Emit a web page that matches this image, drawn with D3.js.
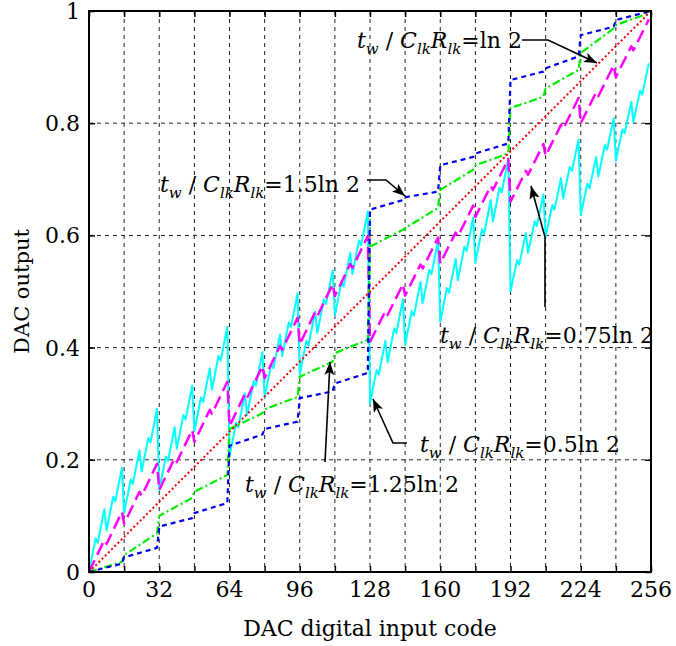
<!DOCTYPE html>
<html lang="en">
<head>
<meta charset="UTF-8">
<title>DAC output vs input code</title>
<script src="https://cdn.jsdelivr.net/npm/d3@7"></script>
<style>
  body { margin: 0; background: #fff; }
  svg { display: block; font-family: "DejaVu Serif", serif; }
</style>
</head>
<body>
<script>
'use strict';

// axis ticks
const xTicks = d3.range(0, 257, 32);
const xMinor = d3.range(0, 257, 16);
const yTicks = [0, 0.2, 0.4, 0.6, 0.8, 1];
const yTickLabels = ['0', '0.2', '0.4', '0.6', '0.8', '1'];

// ideal (tw/ClkRlk = ln 2)
const idealCodes = [0, 255];
const idealOut = [0, 0.996];

// blue / green: read at start and end of every 16-code block
const blockCodes = d3.range(0, 256, 16).flatMap(c => [c, c + 15]);
const blueOut = [0, .015, .026, .043, .081, .096, .105, .123,
                 .225, .245, .255, .268, .31, .322, .336, .355,
                 .646, .663, .668, .678, .725, .740, .746, .764,
                 .877, .892, .898, .919, .957, .972, .984, .999];
const greenOut = [0, .018, .03, .069, .10, .132, .143, .173,
                  .255, .283, .29, .312, .348, .375, .39, .414,
                  .58, .61, .613, .649, .681, .717, .725, .746,
                  .827, .847, .862, .895, .925, .969, .975, .996];

// magenta: start and end of every 8-code block
const eightCodes = d3.range(0, 256, 8).flatMap(c => [c, c + 7]);
const magentaOut = [0, .057, .05, .107, .086, .143, .136, .193,
                    .146, .203, .196, .253, .232, .289, .282, .339,
                    .26, .317, .31, .367, .346, .403, .396, .453,
                    .406, .463, .456, .513, .492, .549, .542, .599,
                    .41, .465, .458, .513, .493, .548, .541, .596,
                    .55, .605, .598, .653, .633, .688, .681, .736,
                    .66, .715, .708, .763, .742, .797, .79, .845,
                    .80, .855, .848, .903, .882, .937, .93, .985];

// cyan: start and end of every 4-code block
const fourCodes = d3.range(0, 256, 4).flatMap(c => [c, c + 3]);
const cyanOut = [0, .06, .052, .112, .074, .134, .126, .186,
                 .105, .165, .157, .217, .179, .239, .231, .291,
                 .146, .206, .198, .258, .22, .28, .272, .332,
                 .251, .311, .303, .363, .325, .385, .377, .437,
                 .206, .266, .258, .318, .28, .34, .332, .392,
                 .311, .371, .363, .423, .385, .445, .437, .497,
                 .352, .412, .404, .464, .426, .486, .478, .538,
                 .457, .517, .509, .569, .531, .591, .583, .643,
                 .30, .36, .352, .412, .374, .434, .426, .486,
                 .405, .465, .457, .517, .479, .539, .531, .591,
                 .446, .506, .498, .558, .52, .58, .572, .632,
                 .551, .611, .603, .663, .625, .685, .677, .737,
                 .50, .556, .548, .604, .569, .625, .617, .673,
                 .598, .654, .646, .702, .666, .722, .715, .771,
                 .636, .692, .684, .74, .705, .761, .753, .809,
                 .733, .789, .782, .838, .802, .858, .851, .907];

const W = 676, H = 646;
const margin = { left: 89, top: 11, right: 25, bottom: 74 };
const pw = W - margin.left - margin.right;
const ph = H - margin.top - margin.bottom;

const svg = d3.select('body').append('svg')
    .attr('width', W)
    .attr('height', H);

const defs = svg.append('defs');
defs.append('marker')
    .attr('id', 'head')
    .attr('markerUnits', 'userSpaceOnUse')
    .attr('markerWidth', 14)
    .attr('markerHeight', 10)
    .attr('refX', 13)
    .attr('refY', 5)
    .attr('orient', 'auto')
    .append('path')
    .attr('d', 'M0,0 L13,5 L0,10 L3,5 z')
    .attr('fill', '#000');

const x = d3.scaleLinear().domain([0, 256]).range([0, pw]);
const y = d3.scaleLinear().domain([0, 1]).range([ph, 0]);

const g = svg.append('g')
    .attr('transform', 'translate(' + margin.left + ',' + margin.top + ')');

// grid
g.append('g')
    .selectAll('line')
    .data(xMinor.slice(1, -1))
    .enter().append('line')
    .attr('x1', d => x(d)).attr('x2', d => x(d))
    .attr('y1', 0).attr('y2', ph)
    .attr('stroke', '#222')
    .attr('stroke-width', 1)
    .attr('stroke-dasharray', '4,4');

g.append('g')
    .selectAll('line')
    .data(yTicks.slice(1, -1))
    .enter().append('line')
    .attr('x1', 0).attr('x2', pw)
    .attr('y1', d => y(d)).attr('y2', d => y(d))
    .attr('stroke', '#222')
    .attr('stroke-width', 1)
    .attr('stroke-dasharray', '4,4');

// series
function series(codes, vals, color, width, dash) {
    const line = d3.line()
        .x(d => x(d[0]))
        .y(d => y(d[1]));
    g.append('path')
        .datum(codes.map((c, i) => [c, vals[i]]))
        .attr('d', line)
        .attr('fill', 'none')
        .attr('stroke', color)
        .attr('stroke-width', width)
        .attr('stroke-linejoin', 'round')
        .attr('stroke-dasharray', dash);
}

series(fourCodes, cyanOut, '#00ffff', 2, null);
series(eightCodes, magentaOut, '#ff00ff', 2.5, '13,6');
series(blockCodes, greenOut, '#00ee00', 2.2, '8,3,2,3');
series(blockCodes, blueOut, '#0000ee', 2.2, '5,4');
series(idealCodes, idealOut, '#ff0000', 2, '2,2.5');

// axes (ticks inward)
const axB = d3.axisBottom(x).tickValues(xMinor).tickSize(-6).tickFormat('');
const axT = d3.axisTop(x).tickValues(xMinor).tickSize(-6).tickFormat('');
const axL = d3.axisLeft(y).tickValues(yTicks).tickSize(-6).tickFormat('');
const axR = d3.axisRight(y).tickValues(yTicks).tickSize(-6).tickFormat('');

[[axB, 'translate(0,' + ph + ')'], [axT, null], [axL, null], [axR, 'translate(' + pw + ',0)']]
    .forEach(([ax, tr]) => {
        const a = g.append('g').attr('transform', tr).call(ax);
        a.select('.domain').remove();
        a.selectAll('line').attr('stroke', '#000').attr('stroke-width', 1.5);
    });

g.append('rect')
    .attr('width', pw).attr('height', ph)
    .attr('fill', 'none')
    .attr('stroke', '#000')
    .attr('stroke-width', 2);

// tick labels
g.append('g')
    .selectAll('text')
    .data(xTicks)
    .enter().append('text')
    .attr('x', d => x(d))
    .attr('y', ph + 25)
    .attr('text-anchor', 'middle')
    .attr('font-size', 22)
    .text(d => d);

g.append('g')
    .selectAll('text')
    .data(yTicks)
    .enter().append('text')
    .attr('x', -9)
    .attr('y', d => y(d) + 8)
    .attr('text-anchor', 'end')
    .attr('font-size', 22)
    .text((d, i) => yTickLabels[i]);

svg.append('text')
    .attr('x', margin.left + pw / 2)
    .attr('y', 636)
    .attr('text-anchor', 'middle')
    .attr('font-size', 22)
    .text('DAC digital input code');

svg.append('text')
    .attr('transform', 'translate(29,' + (margin.top + ph / 2) + ') rotate(-90)')
    .attr('text-anchor', 'middle')
    .attr('font-size', 21)
    .text('DAC output');

// annotations
function label(px, py, val) {
    const t = svg.append('text')
        .attr('x', px).attr('y', py)
        .attr('font-size', 22);
    const parts = [
        ['t', 'italic', 0], ['w', 'italic', 1], [' / ', 'normal', 0],
        ['C', 'italic', 0], ['lk', 'italic', 1], ['R', 'italic', 0],
        ['lk', 'italic', 1], ['=' + val, 'normal', 0]
    ];
    let sub = 0;
    parts.forEach(([s, st, isSub]) => {
        const dy = isSub - sub;
        sub = isSub;
        t.append('tspan')
            .attr('font-style', st)
            .attr('font-size', isSub ? 15 : 22)
            .attr('dy', dy * 6)
            .text(s);
    });
}

function arrow(pts) {
    svg.append('path')
        .attr('d', d3.line()(pts))
        .attr('fill', 'none')
        .attr('stroke', '#000')
        .attr('stroke-width', 1.6)
        .attr('marker-end', 'url(#head)');
}

label(357, 48, 'ln 2');
arrow([[522, 40], [548, 40], [597, 63]]);

label(160, 192, '1.5ln 2');
arrow([[367, 180], [386, 180], [405, 196]]);

label(440, 343, '0.75ln 2');
arrow([[545, 307], [545, 237], [531, 186]]);

label(420, 452, '0.5ln 2');
arrow([[407, 443], [393, 443], [373, 399]]);

label(245, 492, '1.25ln 2');
arrow([[325, 462], [330, 362]]);
</script>
</body>
</html>
